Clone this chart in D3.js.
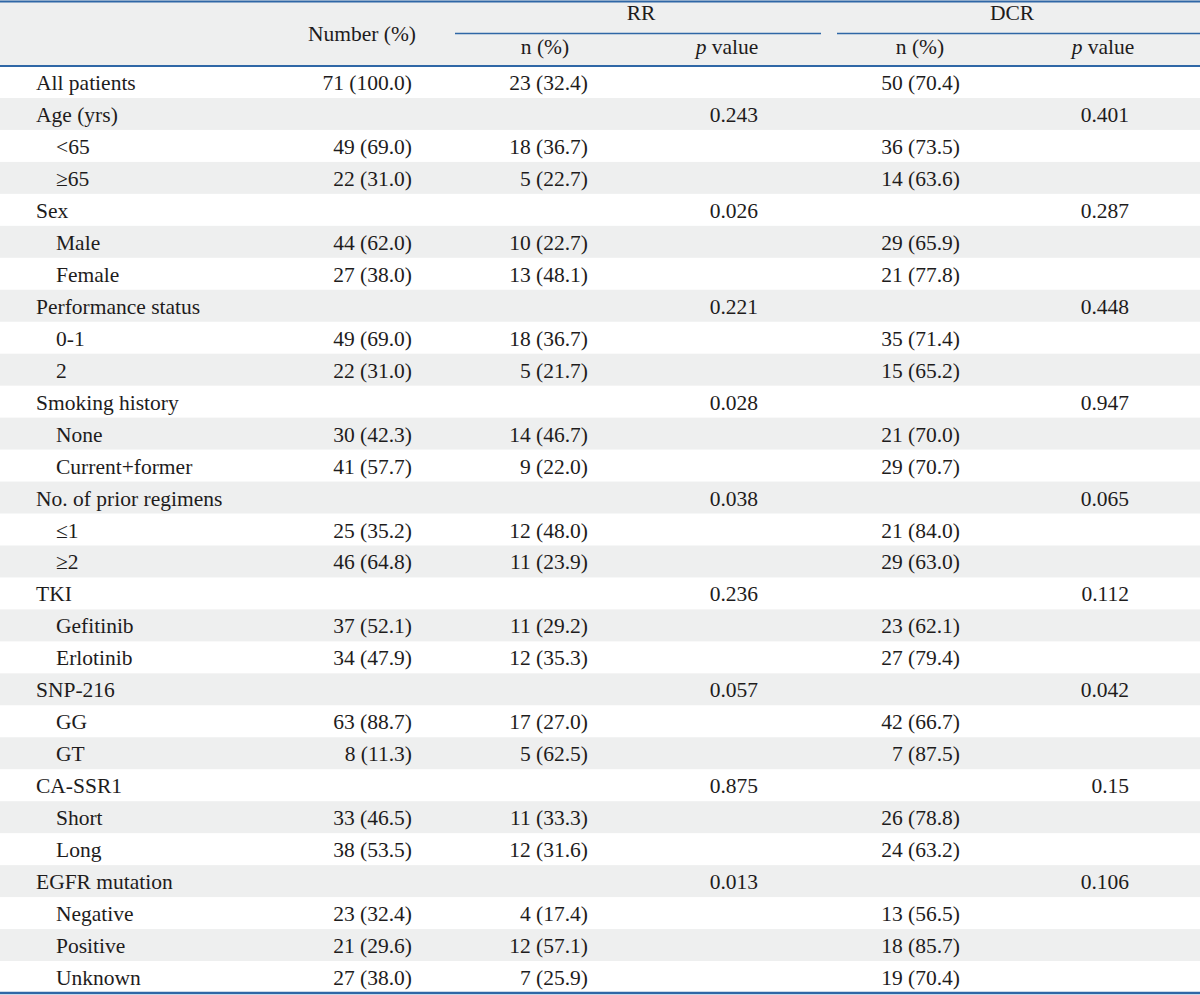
<!DOCTYPE html>
<html>
<head>
<meta charset="utf-8">
<script src="https://cdn.jsdelivr.net/npm/d3@7"></script>
<style>
  html, body { margin: 0; padding: 0; background: #fff; }
  svg { display: block; }
  text { font-family: "Liberation Serif", "Times New Roman", serif; fill: #1e1c1c; }
</style>
</head>
<body>
<svg id="chart" width="1200" height="995"></svg>
<script>
// ---- data ----
const rowLabels = ["All patients","Age (yrs)","<65","\u226565","Sex","Male","Female",
  "Performance status","0-1","2","Smoking history","None","Current+former",
  "No. of prior regimens","\u22641","\u22652","TKI","Gefitinib","Erlotinib",
  "SNP-216","GG","GT","CA-SSR1","Short","Long","EGFR mutation","Negative","Positive","Unknown"];
const rowIndent = [0,0,1,1,0,1,1,0,1,1,0,1,1,0,1,1,0,1,1,0,1,1,0,1,1,0,1,1,1];
const numberPct = ["71 (100.0)","","49 (69.0)","22 (31.0)","","44 (62.0)","27 (38.0)",
  "","49 (69.0)","22 (31.0)","","30 (42.3)","41 (57.7)","","25 (35.2)","46 (64.8)",
  "","37 (52.1)","34 (47.9)","","63 (88.7)","8 (11.3)","","33 (46.5)","38 (53.5)",
  "","23 (32.4)","21 (29.6)","27 (38.0)"];
const rrN = ["23 (32.4)","","18 (36.7)","5 (22.7)","","10 (22.7)","13 (48.1)",
  "","18 (36.7)","5 (21.7)","","14 (46.7)","9 (22.0)","","12 (48.0)","11 (23.9)",
  "","11 (29.2)","12 (35.3)","","17 (27.0)","5 (62.5)","","11 (33.3)","12 (31.6)",
  "","4 (17.4)","12 (57.1)","7 (25.9)"];
const rrP = ["","0.243","","","0.026","","","0.221","","","0.028","","","0.038","","",
  "0.236","","","0.057","","","0.875","","","0.013","","",""];
const dcrN = ["50 (70.4)","","36 (73.5)","14 (63.6)","","29 (65.9)","21 (77.8)",
  "","35 (71.4)","15 (65.2)","","21 (70.0)","29 (70.7)","","21 (84.0)","29 (63.0)",
  "","23 (62.1)","27 (79.4)","","42 (66.7)","7 (87.5)","","26 (78.8)","24 (63.2)",
  "","13 (56.5)","18 (85.7)","19 (70.4)"];
const dcrP = ["","0.401","","","0.287","","","0.448","","","0.947","","","0.065","","",
  "0.112","","","0.042","","","0.15","","","0.106","","",""];
const groupHeaders = ["RR","DCR"];
const subHeaders = ["n (%)","p value","n (%)","p value"];
const mainHeader = "Number (%)";

// ---- layout ----
const W = 1200, H = 995;
const BLUE = "#2f67a6", GREY = "#eeefef";
const FS = 21.5;
const svg = d3.select("#chart");

const headerBottom = 66, tableBottom = 993;
const y = d3.scaleBand().domain(d3.range(rowLabels.length)).range([headerBottom, tableBottom]).padding(0);

// column right-edge anchors for data
const colKeys = ["num","rrN","rrP","dcrN","dcrP"];
const colX = d3.scaleOrdinal().domain(colKeys).range([412, 588, 758, 960, 1129]);
const colData = {num: numberPct, rrN: rrN, rrP: rrP, dcrN: dcrN, dcrP: dcrP};

// header background
svg.append("rect").attr("x",0).attr("y",0).attr("width",W).attr("height",headerBottom).attr("fill",GREY);

// row backgrounds
svg.append("g").selectAll("rect").data(rowLabels).join("rect")
  .attr("x",0).attr("y",(d,i)=>y(i)).attr("width",W).attr("height",y.bandwidth()+0.5)
  .attr("fill",(d,i)=> i%2===1 ? GREY : "#ffffff");

// header texts
svg.append("text").attr("x",362).attr("y",41).attr("text-anchor","middle")
  .attr("font-size",FS).text(mainHeader);

const groupX = d3.scaleOrdinal().domain(groupHeaders).range([[455,821],[837,1200]]);
const gh = svg.append("g").selectAll("g").data(groupHeaders).join("g");
gh.append("text").attr("x",d=>d==="RR"?641:1012).attr("y",20).attr("text-anchor","middle")
  .attr("font-size",FS).text(d=>d);
gh.append("line").attr("x1",d=>groupX(d)[0]).attr("x2",d=>groupX(d)[1])
  .attr("y1",33.5).attr("y2",33.5).attr("stroke",BLUE).attr("stroke-width",1.5);

const subX = [545, 727, 920, 1103];
const sh = svg.append("g").selectAll("text").data(subHeaders).join("text")
  .attr("x",(d,i)=>subX[i]).attr("y",54).attr("text-anchor","middle").attr("font-size",FS);
sh.each(function(d){
  const t = d3.select(this);
  if (d.startsWith("p ")) {
    t.append("tspan").attr("font-style","italic").text("p");
    t.append("tspan").text(d.slice(1));
  } else t.text(d);
});

// row labels
svg.append("g").selectAll("text").data(rowLabels).join("text")
  .attr("x",(d,i)=> rowIndent[i] ? 56 : 36)
  .attr("y",(d,i)=> y(i) + 24)
  .attr("font-size",FS).text(d=>d);

// data columns
colKeys.forEach(k=>{
  svg.append("g").selectAll("text").data(colData[k]).join("text")
    .attr("x",colX(k)).attr("y",(d,i)=> y(i)+24)
    .attr("text-anchor","end").attr("font-size",FS).text(d=>d);
});

// rules
svg.append("line").attr("x1",0).attr("x2",W).attr("y1",1.5).attr("y2",1.5).attr("stroke",BLUE).attr("stroke-width",2);
svg.append("line").attr("x1",0).attr("x2",W).attr("y1",headerBottom).attr("y2",headerBottom).attr("stroke",BLUE).attr("stroke-width",2);
svg.append("line").attr("x1",0).attr("x2",W).attr("y1",tableBottom).attr("y2",tableBottom).attr("stroke",BLUE).attr("stroke-width",2.5);
</script>
</body>
</html>
